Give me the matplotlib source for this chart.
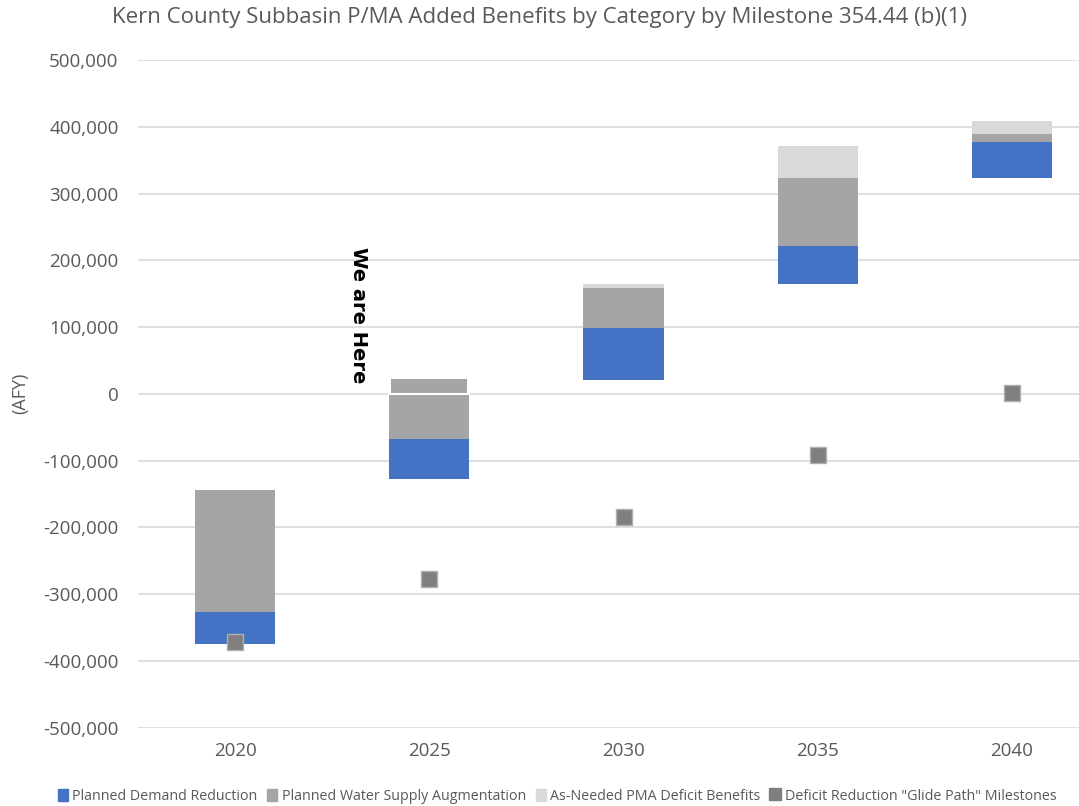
import matplotlib.pyplot as plt
from matplotlib.ticker import FuncFormatter
from matplotlib.lines import Line2D
from matplotlib.patches import Patch

years = ['2020', '2025', '2030', '2035', '2040']
base = [-374000, -127000, 21000, 164000, 323000]        # invisible floor of each bar
demand = [47000, 59500, 77000, 58000, 54000]            # Planned Demand Reduction
supply = [183000, 90000, 60000, 102000, 12000]          # Planned Water Supply Augmentation
as_needed = [0, 0, 6000, 47000, 19000]                  # As-Needed PMA Deficit Benefits
glide = [-371000, -278000, -185000, -92000, 1500]       # "Glide Path" milestones

blue = '#4472C4'
gray = '#A5A5A5'
light = '#D9D9D9'
dark = '#7F7F7F'
txt = '#595959'

plt.rcParams['font.family'] = ['Open Sans', 'DejaVu Sans']

fig = plt.figure(figsize=(10.79, 8.06), dpi=100)
ax = fig.add_axes([138 / 1079, 78.3 / 806, 971 / 1079, 667.7 / 806])

x = list(range(len(years)))
w = 0.412

ax.bar(x, demand, w, bottom=base, color=blue, zorder=2)
sup_bottom = [b + d for b, d in zip(base, demand)]
for i in x:
    lo = sup_bottom[i]
    hi = lo + supply[i]
    if lo < 0 < hi:
        ax.bar(i, -lo, w, bottom=lo, color=gray, zorder=2)
        ax.bar(i, hi, w - 0.02, bottom=0, color=gray, zorder=2)
        ax.plot([i - w / 2, i + w / 2], [0, 0], color='white', lw=1.5, zorder=3)
    else:
        ax.bar(i, supply[i], w, bottom=lo, color=gray, zorder=2)
an_bottom = [s + v for s, v in zip(sup_bottom, supply)]
ax.bar(x, as_needed, w, bottom=an_bottom, color=light, zorder=2)

ax.scatter(x, glide, marker='s', s=125, color=dark, edgecolors='#B0B0B0',
           linewidths=1, zorder=4)

ax.text(0.634, 118000, 'We are Here', rotation=270, ha='center', va='center',
        fontsize=14, fontweight='bold', color='black', family=['DejaVu Sans'])

ax.set_ylim(-500000, 500000)
ax.set_xlim(-0.5, 4.5)
ax.set_yticks(range(-500000, 500001, 100000))
ax.yaxis.set_major_formatter(FuncFormatter(lambda v, p: f'{int(v):,}'))
ax.set_xticks(x)
ax.set_xticklabels(years)
ax.tick_params(axis='both', length=0, labelsize=13.5, colors=txt)
ax.tick_params(axis='y', pad=14)
ax.tick_params(axis='x', pad=10)
ax.grid(axis='y', color='#D9D9D9', lw=1.2, zorder=0)
ax.set_axisbelow(True)
for s in ax.spines.values():
    s.set_visible(False)

fig.text(20 / 1079, 1 - 393 / 806, '(AFY)', rotation=90, ha='center', va='center',
         fontsize=13, color=txt)
fig.text(540 / 1079, 1 - 18 / 806,
         'Kern County Subbasin P/MA Added Benefits by Category by Milestone 354.44 (b)(1)',
         ha='center', va='center', fontsize=16, color=txt)

handles = [
    Patch(color=blue, label='Planned Demand Reduction'),
    Patch(color=gray, label='Planned Water Supply Augmentation'),
    Patch(color=light, label='As-Needed PMA Deficit Benefits'),
    Line2D([], [], marker='s', ls='', color=dark, markersize=8,
           label='Deficit Reduction "Glide Path" Milestones'),
]
fig.legend(handles=handles, loc='center', bbox_to_anchor=(557 / 1079, 1 - 796 / 806),
           ncol=4, frameon=False, fontsize=10.3, handlelength=0.7, handleheight=0.9,
           handletextpad=0.3, columnspacing=0.7, labelcolor=txt)

fig.savefig('out.png', dpi=100)
